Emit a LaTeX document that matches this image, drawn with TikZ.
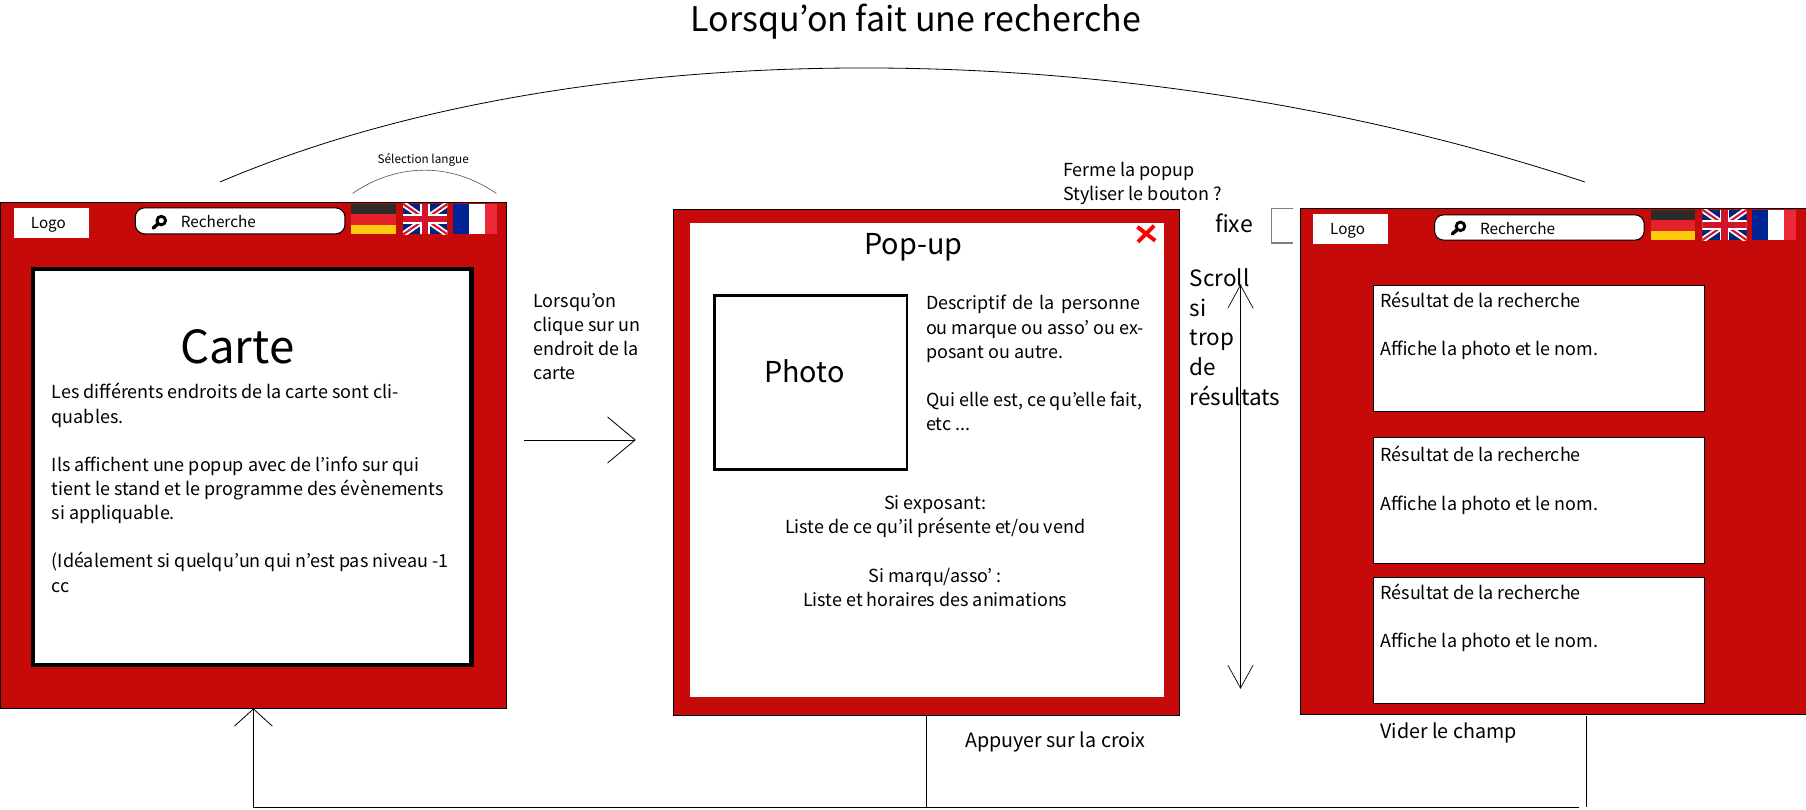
\documentclass[tikz,border=0pt]{standalone}
\usepackage{fontspec}
\setmainfont{Noto Sans CJK KR}
\usetikzlibrary{arrows.meta}
\definecolor{pagered}{HTML}{C60A0A}
\definecolor{deblack}{HTML}{2E2A2A}
\definecolor{dered}{HTML}{E3222C}
\definecolor{degold}{HTML}{FFC90E}
\definecolor{ukblue}{HTML}{00247D}
\definecolor{ukred}{HTML}{CF142B}
\definecolor{frblue}{HTML}{002395}
\definecolor{frred}{HTML}{ED2939}
\tikzset{
  panel/.style={draw=black,line width=0.8pt,fill=pagered,inner sep=0pt,outer sep=0pt,anchor=north west},
  whitebox/.style={fill=white,inner sep=0pt,outer sep=0pt,anchor=north west},
  resultbox/.style={whitebox,draw=black,line width=0.8pt},
  searchbox/.style={whitebox,draw=black,line width=0.9pt,rounded corners=8pt},
  body/.style={inner sep=0pt,outer sep=0pt,font=\fontsize{15.6}{20.95}\selectfont,align=left,anchor=west},
  centred/.style={body,align=center,anchor=center},
  wire/.style={draw=black,line width=0.7pt},
  openarrow/.style={wire,-{Straight Barb[length=24pt,width=40pt,line width=0.7pt]}},
}
\newcommand{\pbox}[7]{\node[#1,minimum width=#5pt,minimum height=#6pt] (#2) at (#3,#4) {#7};}
\newcommand{\flagde}[2]{%
  \fill[deblack] (#1,#2) rectangle ++(38.5,9);
  \fill[dered] (#1,#2+9) rectangle ++(38.5,9.5);
  \fill[degold] (#1,#2+18.5) rectangle ++(38.5,8);}
\newcommand{\flagfr}[2]{%
  \fill[frblue] (#1,#2) rectangle ++(14,26.5);
  \fill[white] (#1+14,#2) rectangle ++(14,26.5);
  \fill[frred] (#1+28,#2) rectangle ++(10.5,26.5);}
\newcommand{\flaguk}[2]{%
  \begin{scope}
    \clip (#1,#2) rectangle ++(38.5,26.5);
    \fill[ukblue] (#1,#2) rectangle ++(38.5,26.5);
    \draw[white,line width=5pt] (#1,#2) -- ++(38.5,26.5) (#1,#2+26.5) -- ++(38.5,-26.5);
    \draw[ukred,line width=1.8pt] (#1,#2) -- ++(38.5,26.5) (#1,#2+26.5) -- ++(38.5,-26.5);
    \fill[white] (#1+15,#2) rectangle ++(8.5,26.5);
    \fill[white] (#1,#2+9) rectangle ++(38.5,8.5);
    \fill[ukred] (#1+16.5,#2) rectangle ++(5.5,26.5);
    \fill[ukred] (#1,#2+10.5) rectangle ++(38.5,5.5);
  \end{scope}}
\newcommand{\loupe}[2]{%
  \draw[black,line width=2.5pt] (#1+3,#2+0.5) circle (3.7pt);
  \draw[black,line width=3pt,line cap=round] (#1,#2+3.5) -- (#1-4,#2+7);}
\begin{document}
\begin{tikzpicture}[x=1pt,y=-1pt]
\useasboundingbox (0,0) rectangle (1568,702.4);
% title
\node[centred,font=\fontsize{29.5}{36}\selectfont] (titre) at (795,19) {Lorsqu’on fait une recherche};
% panel 1
\pbox{panel}{p1}{0}{176}{440}{439}{}
\pbox{whitebox}{logoa}{12}{181}{65}{26}{}
\node[centred,font=\fontsize{13.2}{16}\selectfont] (logoatxt) at (42,195) {Logo};
\pbox{searchbox}{searcha}{117.5}{180.5}{182}{22.5}{}
\loupe{137}{191}
\node[body,anchor=west,font=\fontsize{13.3}{18}\selectfont] (searchatxt) at (157,192.5) {Recherche};
\flagde{305}{177}
\flaguk{350}{177}
\flagfr{393}{177}
\node[whitebox,draw=black,line width=4pt,minimum width=381pt,minimum height=344pt] (carte) at (28.5,233.5) {};
\node[centred,font=\fontsize{39.6}{44}\selectfont] (cartetxt) at (206,301) {Carte};
\node[body,anchor=north west] (cartedesc) at (45,332.8) {Les différents endroits de la carte sont cli-\\quables.\\[20.95pt]Ils affichent une popup avec de l’info sur qui\\tient le stand et le programme des évènements\\si appliquable.\\[20.95pt](Idéalement si quelqu’un qui n’est pas niveau -1\\cc};
\node[centred,font=\fontsize{10.2}{13}\selectfont] (langue) at (367.5,138.5) {Sélection langue};
\coordinate (la) at (306,168);
\coordinate (lb) at (431,168);
\draw[wire,draw=black!70,line width=0.5pt] (la) .. controls (345,141) and (392,141) .. (lb);
% big arc
\coordinate (ra) at (191,158);
\coordinate (rb) at (1376,158);
\draw[wire] (ra) .. controls (500,26) and (978,26) .. (rb);
% arrow 1 -> 2
\node[body,anchor=north west] (clique) at (463,254.8) {Lorsqu’on\\clique sur un\\endroit de la\\carte};
\coordinate (fa) at (455,382);
\coordinate (fb) at (552,382);
\draw[openarrow] (fa) -- (fb);
% panel 2
\pbox{panel}{p2}{585}{182}{439}{439}{}
\pbox{whitebox}{pop}{599}{194}{412}{411}{}
\node[centred,font=\fontsize{25}{30}\selectfont] (poptxt) at (793,215) {Pop-up};
\draw[red,line width=3.4pt] (987.5,197) -- (1003,209) (1002,196) -- (988,210);
\node[whitebox,draw=black,line width=2.4pt,minimum width=167pt,minimum height=151pt] (photo) at (620.5,256.5) {};
\node[centred,font=\fontsize{25}{32}\selectfont] (phototxt) at (698.5,322) {Photo};
\node[body,anchor=north west] (desc) at (804,256.5) {\makebox[186pt][s]{Descriptif de la personne}\\ou marque ou asso’ ou ex-\\posant ou autre.\\[20.95pt]Qui elle est, ce qu’elle fait,\\etc ...};
\node[centred] (expo) at (812,448.5) {Si exposant:\\Liste de ce qu’il présente et/ou vend};
\node[centred] (marq) at (812,510) {Si marqu/asso’ :\\Liste et horaires des animations};
\node[body,anchor=north west] (ferme) at (923,140.8) {Ferme la popup\\Styliser le bouton ?};
\node[body,anchor=west,font=\fontsize{20}{24}\selectfont] (fixe) at (1055,194) {fixe};
\coordinate (ba) at (1123,181);
\coordinate (bb) at (1123,211);
\draw[draw=gray,line width=1.1pt] (ba) -- (1104,181) -- (1104,211) -- (bb);
\node[body,anchor=north west,font=\fontsize{19.5}{25.9}\selectfont] (scroll) at (1033,233) {Scroll\\si\\trop\\de\\résultats};
\coordinate (da) at (1077,247);
\coordinate (db) at (1077,598);
\draw[wire,line width=0.5pt,{Straight Barb[length=20pt,width=22pt,line width=0.6pt]}-{Straight Barb[length=20pt,width=22pt,line width=0.6pt]}] (da) -- (db);
% panel 3
\pbox{panel}{p3}{1129}{181}{439}{439}{}
\pbox{whitebox}{logob}{1140}{186}{65}{26}{}
\node[centred,font=\fontsize{13.2}{16}\selectfont] (logobtxt) at (1170,200) {Logo};
\pbox{searchbox}{searchb}{1245.5}{186.5}{182}{22}{}
\loupe{1265}{196}
\node[body,anchor=west,font=\fontsize{13.3}{18}\selectfont] (searchbtxt) at (1285,198) {Recherche};
\flagde{1433}{182}
\flaguk{1478}{182}
\flagfr{1521}{182}
\pbox{resultbox}{ra1}{1192.5}{248}{287}{109}{}
\pbox{resultbox}{ra2}{1192.5}{380}{287}{109}{}
\pbox{resultbox}{ra3}{1192.5}{501.5}{287}{109.5}{}
\node[body,anchor=north west] (t1) at (1198.5,253) {Résultat de la recherche\\[20.95pt]Affiche la photo et le nom.};
\node[body,anchor=north west] (t2) at (1198.5,387.5) {Résultat de la recherche\\[20.95pt]Affiche la photo et le nom.};
\node[body,anchor=north west] (t3) at (1198.5,506.5) {Résultat de la recherche\\[20.95pt]Affiche la photo et le nom.};
\node[body,anchor=west,font=\fontsize{17.1}{20}\selectfont] (vider) at (1198.5,636.5) {Vider le champ};
\node[body,anchor=west,font=\fontsize{17.1}{20}\selectfont] (appuyer) at (838,644.5) {Appuyer sur la croix};
% return connector
\coordinate (ca) at (1377,621.5);
\coordinate (cb) at (1377,700.6);
\coordinate (cd) at (1371,701);
\coordinate (cc) at (220,701);
\coordinate (cm) at (804.5,701);
\draw[wire] (ca) -- (cb);
\draw[wire,-{Straight Barb[length=15pt,width=33pt,line width=0.7pt]}] (cd) -- (cc) -- (p1.south);
\draw[wire] (p2.south) -- (cm);
\end{tikzpicture}
\end{document}
